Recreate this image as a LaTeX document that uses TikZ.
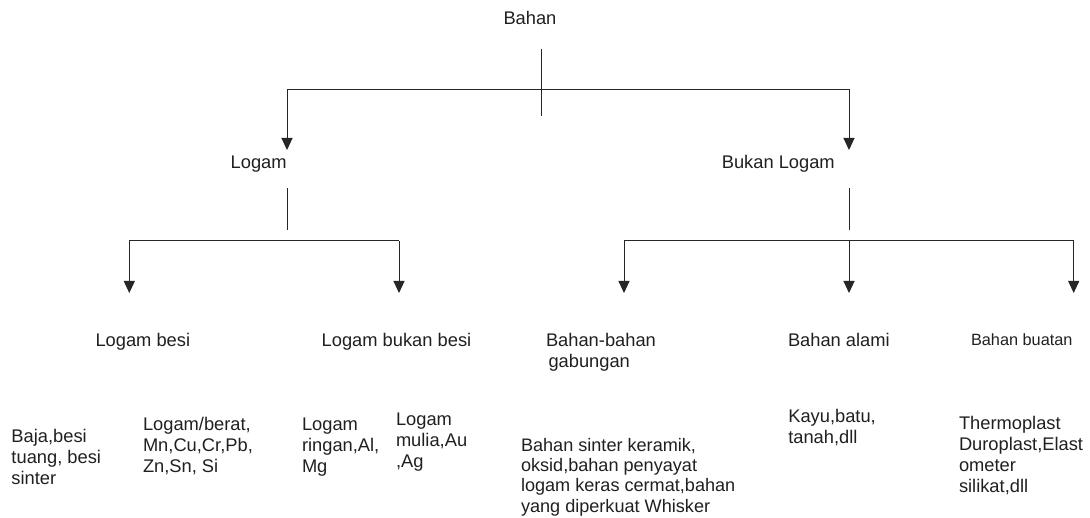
\documentclass[tikz,border=0pt]{standalone}
\usepackage{fontspec}
\setmainfont{Liberation Sans}
\usetikzlibrary{arrows.meta}
\definecolor{txt}{RGB}{32,32,32}
\definecolor{ln}{RGB}{38,38,38}
\newcommand{\ml}[1]{\begin{tabular}[t]{@{}l@{}}#1\end{tabular}}
\begin{document}
\begin{tikzpicture}[x=1pt,y=-1pt,
  lbl/.style={anchor=base west,inner sep=0pt,outer sep=0pt,text=txt,
              font=\fontsize{18.3}{21}\selectfont},
  smalllbl/.style={lbl,font=\fontsize{16.3}{19}\selectfont},
  conn/.style={draw=ln,line width=1pt},
  arr/.style={conn,-{Triangle[length=12pt,width=11pt]}}]
\fill[white] (0,0) rectangle (1090,518);
\useasboundingbox (0,0) rectangle (1090,518);

% level 0 and 1
\node[lbl] (bahan) at (503.5,25) {Bahan};
\node[lbl] (logam) at (230.7,169) {Logam};
\node[lbl] (bukan) at (721.8,169) {Bukan Logam};

% level 2
\node[lbl] (lbesi) at (95.5,346.3) {Logam besi};
\node[lbl] (lbukan) at (321.7,346.3) {Logam bukan besi};
\node[lbl] (gab) at (546,346.3) {\ml{Bahan-bahan\\\hspace{2.5pt}gabungan}};
\node[lbl] (alami) at (788,346.3) {Bahan alami};
\node[smalllbl] (buatan) at (971,345.7) {Bahan buatan};

% leaves
\node[lbl] (baja) at (11.5,442.3) {\ml{Baja,besi\\tuang, besi\\sinter}};
\node[lbl] (berat) at (143,430.7) {\ml{Logam/berat,\\Mn,Cu,Cr,Pb,\\Zn,Sn, Si}};
\node[lbl] (ringan) at (302,430.7) {\ml{Logam\\ringan,Al,\\Mg}};
\node[lbl] (mulia) at (396,425.7) {\ml{Logam\\mulia,Au\\,Ag}};
\node[lbl,font=\fontsize{18.1}{20.4}\selectfont] (sinter) at (521,451) {\ml{Bahan sinter keramik,\\oksid,bahan penyayat\\logam keras cermat,bahan\\yang diperkuat Whisker}};
\node[lbl] (kayu) at (788.3,422.3) {\ml{Kayu,batu,\\tanah,dll}};
\node[lbl] (thermo) at (959,429.7) {\ml{Thermoplast\\Duroplast,Elast\\ometer\\silikat,dll}};

% junction coordinates
\coordinate (bahanTop) at (541.7,49);
\coordinate (bahanBot) at (541.7,115.7);
\coordinate (hL) at (287,89.3);
\coordinate (hR) at (849,89.3);
\coordinate (logamTip) at (287,150);
\coordinate (bukanTip) at (849,150);

\coordinate (logamStemTop) at (287,188);
\coordinate (logamStemBot) at (287,230);
\coordinate (bukanStemTop) at (849,188);
\coordinate (bukanStemBot) at (849,230);

\coordinate (l1) at (129.3,241);
\coordinate (l2) at (399,241);
\coordinate (r1) at (624,241);
\coordinate (r2) at (849,241);
\coordinate (r3) at (1073.7,241);

\coordinate (lbesiTip) at (129.3,293);
\coordinate (lbukanTip) at (399,293);
\coordinate (gabTip) at (624,293);
\coordinate (alamiTip) at (849,293);
\coordinate (buatanTip) at (1073.7,293);

% connectors
\draw[conn] (bahanTop) -- (bahanBot);
\draw[conn] (hL) -- (hR);
\draw[arr] (hL) -- (logamTip);
\draw[arr] (hR) -- (bukanTip);

\draw[conn] (logamStemTop) -- (logamStemBot);
\draw[conn] (bukanStemTop) -- (bukanStemBot);

\draw[conn] (l1) -- (l2);
\draw[arr] (l1) -- (lbesiTip);
\draw[arr] (l2) -- (lbukanTip);

\draw[conn] (r1) -- (r3);
\draw[arr] (r1) -- (gabTip);
\draw[arr] (r2) -- (alamiTip);
\draw[arr] (r3) -- (buatanTip);
\end{tikzpicture}
\end{document}
